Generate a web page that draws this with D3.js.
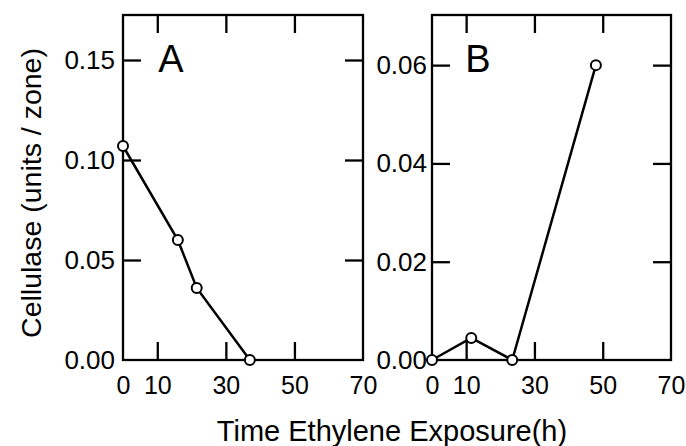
<!DOCTYPE html>
<html lang="en">
<head>
  <meta charset="UTF-8">
  <title>Cellulase vs Time Ethylene Exposure</title>
  <script src="https://d3js.org/d3.v7.min.js"></script>
  <style>
    body { margin: 0; background: #fff; }
    text { font-family: "Liberation Sans", Arial, sans-serif; fill: #000; }
    .frame { fill: none; stroke: #000; stroke-width: 2.3; }
    .ticks path { display: none; }
    .ticks line { stroke: #000; stroke-width: 2.3; }
    .labels path, .labels line { display: none; }
    .labels text { font-size: 25px; }
    .labels.y text { font-size: 26px; }
  </style>
</head>
<body>
<div id="chart"></div>
<script>
  // data
  const timeA = [0, 16, 21.5, 37];
  const cellA = [0.107, 0.060, 0.036, 0];
  const timeB = [0, 11.5, 23.5, 48];
  const cellB = [0, 0.0045, 0, 0.060];

  const xTickLabels = [0, 10, 30, 50, 70];
  const xTickMarks = [10, 30, 50];
  const yTicksA = [0, 0.05, 0.10, 0.15];
  const yTicksB = [0, 0.02, 0.04, 0.06];

  const W = 686, H = 446;
  const svg = d3.select("#chart").append("svg")
    .attr("width", W).attr("height", H);

  const plotTop = 15, plotBottom = 360, tick = 18;

  function panel(opts) {
    const x = d3.scaleLinear().domain([0, 70]).range([opts.left, opts.right]);
    const y = d3.scaleLinear().domain([0, opts.ymax]).range([plotBottom, plotTop]);
    const g = svg.append("g");

    g.append("rect").attr("class", "frame")
      .attr("x", opts.left).attr("y", plotTop)
      .attr("width", opts.right - opts.left).attr("height", plotBottom - plotTop);

    // inward tick marks on all four sides
    g.append("g").attr("class", "ticks")
      .attr("transform", "translate(0," + plotBottom + ")")
      .call(d3.axisBottom(x).tickValues(xTickMarks).tickSize(-tick).tickFormat(""));
    g.append("g").attr("class", "ticks")
      .attr("transform", "translate(0," + plotTop + ")")
      .call(d3.axisTop(x).tickValues(xTickMarks).tickSize(-tick).tickFormat(""));
    const yMarks = opts.yticks.filter(d => d > 0);
    g.append("g").attr("class", "ticks")
      .attr("transform", "translate(" + opts.left + ",0)")
      .call(d3.axisLeft(y).tickValues(yMarks).tickSize(-tick).tickFormat(""));
    g.append("g").attr("class", "ticks")
      .attr("transform", "translate(" + opts.right + ",0)")
      .call(d3.axisRight(y).tickValues(yMarks).tickSize(-tick).tickFormat(""));

    // tick labels
    g.append("g").attr("class", "labels")
      .attr("transform", "translate(0," + plotBottom + ")")
      .call(d3.axisBottom(x).tickValues(xTickLabels).tickSize(0).tickPadding(16).tickFormat(d3.format("d")));
    g.append("g").attr("class", "labels y")
      .attr("transform", "translate(" + opts.left + ",0)")
      .call(d3.axisLeft(y).tickValues(opts.yticks).tickSize(0).tickPadding(opts.pad).tickFormat(d3.format(opts.fmt)));

    const line = d3.line().x(d => x(d[0])).y(d => y(d[1]));
    const pts = d3.zip(opts.t, opts.v);
    g.append("path").datum(pts)
      .attr("d", line)
      .attr("fill", "none").attr("stroke", "#000").attr("stroke-width", 2.5);
    g.selectAll("circle").data(pts).enter().append("circle")
      .attr("cx", d => x(d[0])).attr("cy", d => y(d[1]))
      .attr("r", 5)
      .attr("fill", "#fff").attr("stroke", "#000").attr("stroke-width", 2);

    g.append("text")
      .attr("x", opts.letterX).attr("y", 72)
      .attr("text-anchor", "middle")
      .style("font-size", "38px")
      .text(opts.letter);
  }

  panel({left: 123, right: 363, ymax: 0.1725, yticks: yTicksA, fmt: ".2f", pad: 8,
         t: timeA, v: cellA, letter: "A", letterX: 171});
  panel({left: 432, right: 671, ymax: 0.0702, yticks: yTicksB, fmt: ".2f", pad: 5,
         t: timeB, v: cellB, letter: "B", letterX: 478});

  svg.append("text")
    .attr("x", 392).attr("y", 441)
    .attr("text-anchor", "middle")
    .style("font-size", "29px")
    .text("Time Ethylene Exposure(h)");

  svg.append("text")
    .attr("transform", "translate(41,193) rotate(-90)")
    .attr("text-anchor", "middle")
    .style("font-size", "28.5px")
    .text("Cellulase (units / zone)");
</script>
</body>
</html>
